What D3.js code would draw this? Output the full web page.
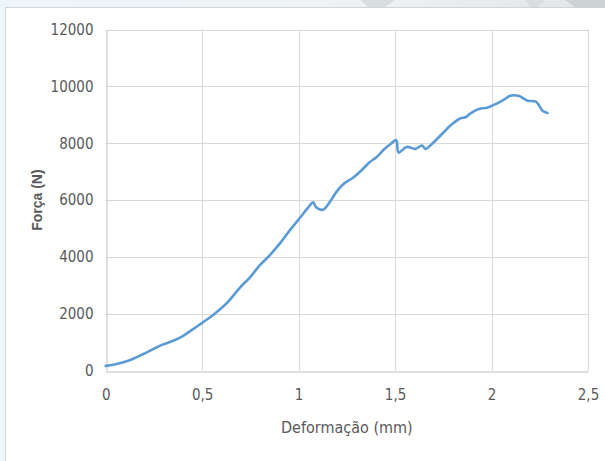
<!DOCTYPE html>
<html>
<head>
<meta charset="utf-8">
<script src="https://cdn.jsdelivr.net/npm/d3@7"></script>
<style>
  body { margin: 0; background: #eef5f8; overflow: hidden; }
  svg { display: block; }
</style>
</head>
<body>
<div id="chart"></div>
<script>
// Data: deformation (mm) vs force (N)
const deformacao = [0, 0.04, 0.091, 0.143, 0.195, 0.246, 0.298, 0.35, 0.402, 0.453, 0.5, 0.557,
    0.626, 0.696, 0.747, 0.799, 0.85, 0.902, 0.954, 1.006, 1.049, 1.075, 1.092, 1.126, 1.161,
    1.195, 1.23, 1.282, 1.325, 1.368, 1.403, 1.446, 1.48, 1.506, 1.518, 1.56, 1.605, 1.64, 1.657,
    1.7, 1.752, 1.787, 1.839, 1.865, 1.891, 1.934, 1.977, 2.03, 2.065, 2.096, 2.143, 2.186,
    2.229, 2.247, 2.264, 2.29];
const forca = [170, 210, 295, 421, 586, 761, 926, 1053, 1228, 1463, 1684, 1960,
    2365, 2926, 3277, 3709, 4060, 4470, 4937, 5370, 5733, 5920, 5740, 5663, 5930,
    6281, 6551, 6786, 7042, 7333, 7509, 7803, 7990, 8110, 7670, 7870, 7803, 7919, 7803,
    8035, 8386, 8621, 8877, 8912, 9053, 9207, 9250, 9404, 9530, 9670, 9660, 9498,
    9463, 9323, 9146, 9066];
const xTicks = [0, 0.5, 1, 1.5, 2, 2.5];
const yTicks = [0, 2000, 4000, 6000, 8000, 10000, 12000];

const width = 605, height = 461;
const plot = { left: 105.7, right: 588, top: 29.5, bottom: 370.7 };

const svg = d3.select("#chart").append("svg")
    .attr("width", width)
    .attr("height", height);

// background slide decoration
const defs = svg.append("defs");
const grad = defs.append("linearGradient").attr("id", "bg").attr("x1", 0).attr("x2", 1);
grad.append("stop").attr("offset", "0%").attr("stop-color", "#edf6fa");
grad.append("stop").attr("offset", "60%").attr("stop-color", "#eef2f4");
grad.append("stop").attr("offset", "100%").attr("stop-color", "#e2e5e7");
svg.append("rect").attr("width", width).attr("height", height).attr("fill", "url(#bg)");
svg.append("polygon").attr("points", "360,0 395,0 385,7 368,7").attr("fill", "#d8dde0");
svg.append("polygon").attr("points", "525,0 545,0 538,7 530,7").attr("fill", "#d8dde0");
svg.append("polygon").attr("points", "565,0 605,0 605,7 575,7").attr("fill", "#cdd2d5");

// chart frame
svg.append("rect")
    .attr("x", 5.5).attr("y", 7.5)
    .attr("width", 620).attr("height", 470)
    .attr("fill", "#ffffff")
    .attr("stroke", "#d4d4d4");

const x = d3.scaleLinear().domain([0, 2.5]).range([plot.left, plot.right]);
const y = d3.scaleLinear().domain([0, 12000]).range([plot.bottom, plot.top]);

const fmt = d => String(d).replace(".", ",");
const font = "'Liberation Sans Narrow', 'Arial Narrow', 'DejaVu Sans Condensed', sans-serif";

// gridlines
svg.append("g").selectAll("line.h")
    .data(yTicks.slice(1))
    .join("line")
    .attr("x1", plot.left).attr("x2", plot.right)
    .attr("y1", d => Math.round(y(d)) + 0.5).attr("y2", d => Math.round(y(d)) + 0.5)
    .attr("stroke", "#d9d9d9");
svg.append("g").selectAll("line.v")
    .data(xTicks.slice(1))
    .join("line")
    .attr("x1", d => Math.round(x(d)) + 0.5).attr("x2", d => Math.round(x(d)) + 0.5)
    .attr("y1", plot.top).attr("y2", plot.bottom)
    .attr("stroke", "#d9d9d9");

// axes
const xAxis = svg.append("g")
    .attr("transform", `translate(0,${Math.round(plot.bottom) + 0.5})`)
    .call(d3.axisBottom(x).tickValues(xTicks).tickFormat(fmt).tickSize(0).tickPadding(18));
const yAxis = svg.append("g")
    .attr("transform", `translate(${Math.round(plot.left) + 0.5},0)`)
    .call(d3.axisLeft(y).tickValues(yTicks).tickFormat(d => d).tickSize(0).tickPadding(13));
[xAxis, yAxis].forEach(a => {
    a.select(".domain").attr("stroke", "#bfbfbf");
    a.selectAll("text")
        .attr("fill", "#595959")
        .style("font-family", font)
        .style("font-size", "15px");
});

// curve
svg.append("path")
    .datum(deformacao.map((d, i) => [d, forca[i]]))
    .attr("fill", "none")
    .attr("stroke", "#5b9bd5")
    .attr("stroke-width", 2.6)
    .attr("stroke-linejoin", "round")
    .attr("stroke-linecap", "round")
    .attr("d", d3.line().x(d => x(d[0])).y(d => y(d[1])).curve(d3.curveCatmullRom.alpha(0.5)));

// axis titles
svg.append("text")
    .attr("x", (plot.left + plot.right) / 2)
    .attr("y", 433)
    .attr("text-anchor", "middle")
    .attr("fill", "#595959")
    .style("font-family", font)
    .style("font-size", "16px")
    .text("Deformação (mm)");

svg.append("text")
    .attr("transform", `translate(42,${(plot.top + plot.bottom) / 2}) rotate(-90)`)
    .attr("text-anchor", "middle")
    .attr("fill", "#595959")
    .style("font-family", "'Liberation Sans', Arial, sans-serif")
    .style("font-size", "14px")
    .style("font-weight", "bold")
    .text("Força (N)");
</script>
</body>
</html>
